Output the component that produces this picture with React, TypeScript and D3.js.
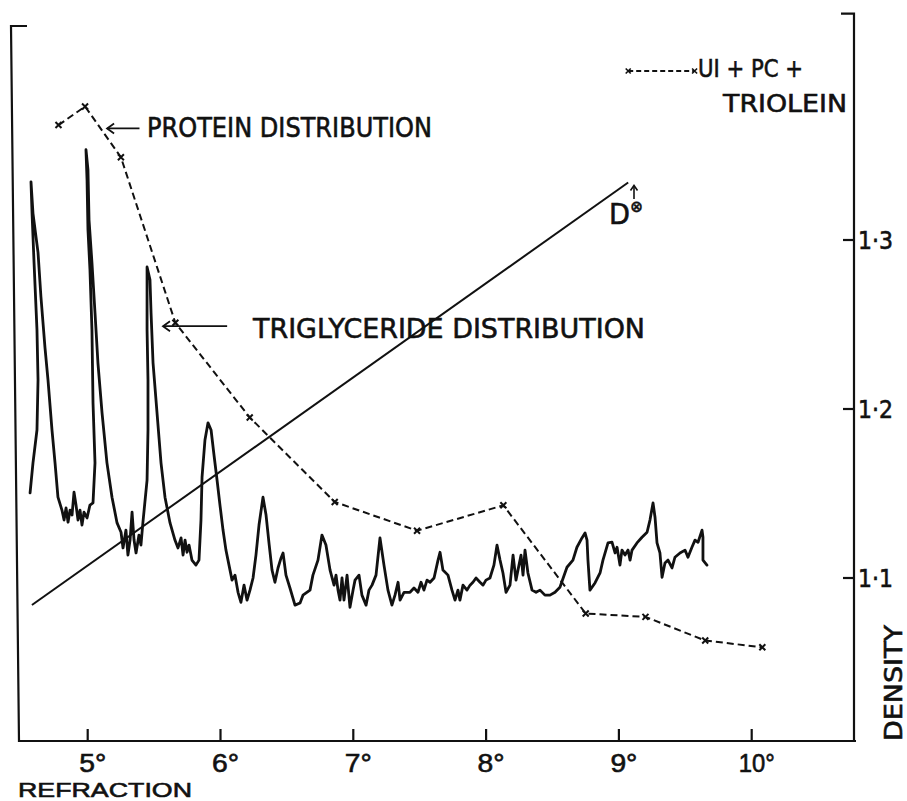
import React from 'react';
import * as d3 from 'd3';

// ---- axis ticks ----
const refractionTicks = [5, 6, 7, 8, 9, 10];
const refractionTickLabels = ['5°', '6°', '7°', '8°', '9°', '10°'];
const densityTicks = [1.1, 1.2, 1.3];
const densityTickLabels = ['1·1', '1·2', '1·3'];

// ---- refractometer trace (refraction in degrees, signal in % of full scale) ----
const traceRefraction = [
  4.566, 4.588, 4.618, 4.626, 4.618, 4.596, 4.581, 4.573,
  4.588, 4.626, 4.648, 4.678, 4.701, 4.731, 4.754, 4.776, 4.806,
  4.822, 4.837, 4.852, 4.867, 4.882, 4.897, 4.912, 4.927, 4.942, 4.957, 4.972, 4.995, 5.017,
  5.040, 5.055, 5.040, 5.032, 5.017, 5.002, 4.995, 4.987,
  5.002, 5.010, 5.032, 5.055, 5.077, 5.108, 5.145, 5.183, 5.221, 5.251,
  5.266, 5.288, 5.303, 5.319, 5.334, 5.349, 5.364, 5.386, 5.401, 5.416,
  5.447, 5.454, 5.454, 5.447, 5.447, 5.447, 5.469, 5.477, 5.492, 5.522, 5.552, 5.582, 5.620, 5.657,
  5.680, 5.703, 5.718, 5.733, 5.748, 5.763, 5.785, 5.815, 5.838,
  5.853, 5.861, 5.883, 5.906, 5.929, 5.951, 5.974, 5.996, 6.019, 6.041, 6.064,
  6.087, 6.109, 6.132, 6.154, 6.177, 6.200, 6.222, 6.245, 6.267,
  6.290, 6.320, 6.343, 6.365, 6.388, 6.410, 6.433, 6.456, 6.471, 6.493, 6.523, 6.561, 6.599, 6.621,
  6.674, 6.696, 6.734, 6.764, 6.794, 6.825, 6.855, 6.870, 6.885, 6.900, 6.915, 6.930, 6.953, 6.975,
  6.998, 7.013, 7.043, 7.065, 7.096, 7.118, 7.141, 7.171, 7.201, 7.231, 7.261, 7.291, 7.314, 7.337,
  7.352, 7.382, 7.427, 7.457, 7.487, 7.510, 7.532, 7.555, 7.578, 7.608, 7.638, 7.653, 7.675, 7.713,
  7.743, 7.766, 7.788, 7.803, 7.826, 7.856, 7.879, 7.901, 7.924, 7.954, 7.977, 7.999, 8.029, 8.059,
  8.082, 8.105, 8.127, 8.150, 8.180, 8.203, 8.225, 8.240, 8.263, 8.278, 8.293, 8.315, 8.346, 8.376,
  8.406, 8.443, 8.481, 8.519, 8.556, 8.609, 8.654, 8.684, 8.722, 8.745, 8.760, 8.767, 8.782, 8.820,
  8.858, 8.880, 8.918, 8.948, 8.971, 8.986, 9.008, 9.023, 9.046, 9.069, 9.084, 9.099, 9.136, 9.174,
  9.212, 9.234, 9.257, 9.272, 9.287, 9.309, 9.325, 9.347, 9.370, 9.400, 9.422, 9.460, 9.498, 9.520,
  9.550, 9.573, 9.596, 9.626, 9.633, 9.633, 9.663,
];
const traceSignal = [
  34.7, 38.9, 43.5, 50.5, 57.5, 66.9, 73.8, 78.2,
  73.8, 68.3, 62.1, 55.1, 50.5, 43.5, 38.9, 34.1, 32.3,
  30.9, 32.6, 30.6, 32.3, 31.6, 34.8, 33.0, 30.9, 32.3, 30.2, 32.0, 31.2, 33.0,
  33.3, 38.9, 47.3, 57.5, 65.9, 71.5, 78.5, 82.7,
  79.9, 72.9, 66.9, 59.9, 52.9, 45.9, 38.9, 34.1, 30.5, 29.2,
  27.0, 29.5, 26.0, 28.1, 32.0, 28.1, 26.3, 28.8, 27.4, 30.6,
  36.5, 43.5, 50.5, 57.5, 63.1, 66.3, 64.5, 59.9, 52.9, 45.9, 38.9, 34.1, 30.5, 28.1,
  27.0, 28.4, 26.0, 28.1, 26.4, 27.4, 25.3, 24.6, 25.3,
  30.9, 36.9, 42.1, 44.5, 43.5, 40.0, 36.5, 33.0, 29.5, 26.7, 24.6,
  22.5, 23.2, 20.8, 19.4, 21.8, 19.7, 21.1, 22.8, 26.0,
  30.2, 34.1, 31.6, 27.7, 23.9, 22.2, 24.2, 25.6, 26.3, 23.2, 21.4, 19.0, 19.3, 20.4,
  21.1, 23.2, 25.3, 28.8, 27.4, 23.9, 21.8, 23.2, 21.1, 19.7, 22.8, 19.7, 23.2, 18.7,
  21.1, 22.5, 23.2, 20.4, 19.0, 21.1, 21.8, 23.2, 28.4, 24.6, 21.1, 19.0, 20.4, 22.2,
  19.7, 20.8, 20.8, 21.4, 20.8, 22.2, 21.1, 22.5, 22.2, 22.8, 25.3, 26.4, 23.9, 23.2,
  21.1, 19.7, 21.1, 19.7, 21.8, 21.1, 21.8, 22.2, 22.8, 22.2, 21.8, 22.5, 22.8, 24.6,
  27.4, 25.3, 23.5, 20.8, 21.8, 26.0, 22.5, 23.9, 26.0, 23.2, 26.7, 23.5, 21.1, 20.8,
  21.1, 20.4, 20.4, 20.8, 21.5, 24.3, 25.3, 27.1, 28.4, 29.1, 28.1, 25.3, 21.1, 22.1,
  23.5, 25.3, 27.7, 27.8, 26.3, 27.1, 24.6, 26.7, 26.0, 26.7, 25.3, 26.7, 27.7, 28.5,
  29.2, 30.9, 33.3, 31.3, 27.7, 26.3, 22.9, 24.9, 25.3, 24.2, 25.7, 26.3, 26.7, 25.7,
  27.1, 28.1, 27.8, 29.5, 28.5, 25.3, 24.6,
];

// ---- protein distribution (UI + PC + triolein), density vs refraction ----
const proteinRefraction = [4.78, 4.98, 5.25, 5.66, 6.22, 6.86, 7.48, 8.13, 8.75, 9.2, 9.65, 10.08];
const proteinDensity = [1.368, 1.379, 1.349, 1.251, 1.195, 1.145, 1.128, 1.143, 1.079, 1.077, 1.063, 1.059];

// ---- density gradient line (D) ----
const gradientRefraction = [4.58, 9.07];
const gradientDensity = [1.084, 1.334];

// ---- legend sample ----
const legendRefraction = [9.07, 9.57];
const legendDensity = 1.4;

const FONT = "'DejaVu Sans','Liberation Sans',Arial,sans-serif";
const FONT_BOTTOM = "'Liberation Sans',Arial,sans-serif";

export default function App() {
  const x = d3.scaleLinear().domain([5, 10]).range([87.7, 751.7]);
  const yD = d3.scaleLinear().domain([1.1, 1.3]).range([578, 240]);
  const yS = d3.scaleLinear().domain([0, 100]).range([741, 26]);

  const tracePath = d3
    .line<number>()
    .x((_, i) => x(traceRefraction[i]))
    .y((d) => yS(d))(traceSignal) as string;

  const proteinPath = d3
    .line<number>()
    .x((_, i) => x(proteinRefraction[i]))
    .y((d) => yD(d))(proteinDensity) as string;

  const gradientPath = d3
    .line<number>()
    .x((_, i) => x(gradientRefraction[i]))
    .y((d) => yD(d))(gradientDensity) as string;

  const cross = (cx: number, cy: number, s = 3) =>
    `M${cx - s},${cy - s}L${cx + s},${cy + s}M${cx - s},${cy + s}L${cx + s},${cy - s}`;

  const xBottom = yS(0);
  const xLeftTop = 11;
  const xLeftBottom = 19;
  const rightX = 854;
  const rightTop = yD(1.434);

  // annotation anchors (data coords)
  const protArrowTip = [x(5.146), yD(1.366)];
  const protArrowTail = [x(5.39), yD(1.366)];
  const trigArrowTip = [x(5.567), yD(1.249)];
  const trigArrowTail = [x(6.05), yD(1.249)];

  const openHead = (tx: number, ty: number) =>
    `M${tx + 7},${ty - 5}L${tx},${ty}L${tx + 7},${ty + 5}`;

  const textStyle = { fill: '#111', stroke: '#111', strokeWidth: 0.6 };

  return (
    <svg
      width={907}
      height={801}
      style={{ position: 'absolute', left: 0, top: 0, background: '#fff' }}
      fontFamily={FONT}
    >
      <rect x={0} y={0} width={907} height={801} fill="#fff" />
      {/* frame */}
      <g stroke="#111" strokeWidth={2.2} fill="none">
        <path d={`M${27},${yS(100)}L${xLeftTop},${yS(100)}L${xLeftBottom},${xBottom}L${rightX + 2},${xBottom}`} />
        <path d={`M${rightX - 13},${rightTop}L${rightX},${rightTop}L${rightX},${xBottom}`} />
        {refractionTicks.map((t) => (
          <line key={t} x1={x(t)} x2={x(t)} y1={xBottom} y2={xBottom - 12} />
        ))}
        {densityTicks.map((t) => (
          <line key={t} x1={rightX - 11} x2={rightX} y1={yD(t)} y2={yD(t)} />
        ))}
      </g>

      {/* tick labels */}
      {refractionTicks.map((t, i) => (
        <text
          key={t}
          x={x(t) + 5}
          y={772}
          fontSize={25}
          fontFamily={FONT_BOTTOM}
          textAnchor="middle"
          {...textStyle}
          textLength={t === 10 ? 36 : 27}
          lengthAdjust="spacingAndGlyphs"
        >
          {refractionTickLabels[i]}
        </text>
      ))}
      {densityTicks.map((t, i) => (
        <text
          key={t}
          x={rightX + 4}
          y={yD(t) + 9}
          fontSize={24}
          {...textStyle}
          textLength={35}
          lengthAdjust="spacingAndGlyphs"
        >
          {densityTickLabels[i]}
        </text>
      ))}

      {/* axis titles */}
      <text
        x={18}
        y={796.5}
        fontSize={21}
        fontFamily={FONT_BOTTOM}
        {...textStyle}
        textLength={174}
        lengthAdjust="spacingAndGlyphs"
      >
        REFRACTION
      </text>
      <text
        transform={`translate(902,741) rotate(-90)`}
        fontSize={24}
        {...textStyle}
        textLength={116}
        lengthAdjust="spacingAndGlyphs"
      >
        DENSITY
      </text>

      {/* density gradient line */}
      <path d={gradientPath} fill="none" stroke="#111" strokeWidth={2} />
      <text x={609} y={224} fontSize={28} {...textStyle} textLength={34} lengthAdjust="spacingAndGlyphs">
        D
        <tspan dy={-12} fontSize={16} fontWeight="bold" strokeWidth={0.3}>
          ⊗
        </tspan>
      </text>
      <g stroke="#111" strokeWidth={1.6} fill="none">
        <line x1={634} x2={634} y1={199} y2={186} />
        <path d="M630.5,190.5L634,185.5L637.5,190.5" />
      </g>

      {/* trace */}
      <path d={tracePath} fill="none" stroke="#111" strokeWidth={2.8} strokeLinejoin="round" strokeLinecap="round" />

      {/* protein distribution */}
      <path d={proteinPath} fill="none" stroke="#111" strokeWidth={2} strokeDasharray="7 4" />
      <g stroke="#111" strokeWidth={2} fill="none">
        {proteinDensity.map((d, i) => (
          <path key={i} d={cross(x(proteinRefraction[i]), yD(d))} />
        ))}
      </g>

      {/* legend */}
      <line
        x1={x(legendRefraction[0])}
        x2={x(legendRefraction[1])}
        y1={yD(legendDensity)}
        y2={yD(legendDensity)}
        stroke="#111"
        strokeWidth={1.8}
        strokeDasharray="5 3"
      />
      <g stroke="#111" strokeWidth={1.6} fill="none">
        {legendRefraction.map((r, i) => (
          <path key={i} d={cross(x(r), yD(legendDensity), 2.5)} />
        ))}
      </g>
      <text x={698} y={77} fontSize={24} {...textStyle} textLength={105} lengthAdjust="spacingAndGlyphs">
        UI + PC +
      </text>
      <text x={723} y={112} fontSize={25} {...textStyle} textLength={124} lengthAdjust="spacingAndGlyphs">
        TRIOLEIN
      </text>

      {/* annotations */}
      <g stroke="#111" strokeWidth={1.8} fill="none">
        <line x1={protArrowTail[0]} y1={protArrowTail[1]} x2={protArrowTip[0]} y2={protArrowTip[1]} />
        <path d={openHead(protArrowTip[0], protArrowTip[1])} />
        <line x1={trigArrowTail[0]} y1={trigArrowTail[1]} x2={trigArrowTip[0]} y2={trigArrowTip[1]} />
        <path d={openHead(trigArrowTip[0], trigArrowTip[1])} />
      </g>
      <text x={147} y={137} fontSize={26} {...textStyle} textLength={285} lengthAdjust="spacingAndGlyphs">
        PROTEIN DISTRIBUTION
      </text>
      <text x={253} y={338} fontSize={27} {...textStyle} textLength={392} lengthAdjust="spacingAndGlyphs">
        TRIGLYCERIDE DISTRIBUTION
      </text>
    </svg>
  );
}
